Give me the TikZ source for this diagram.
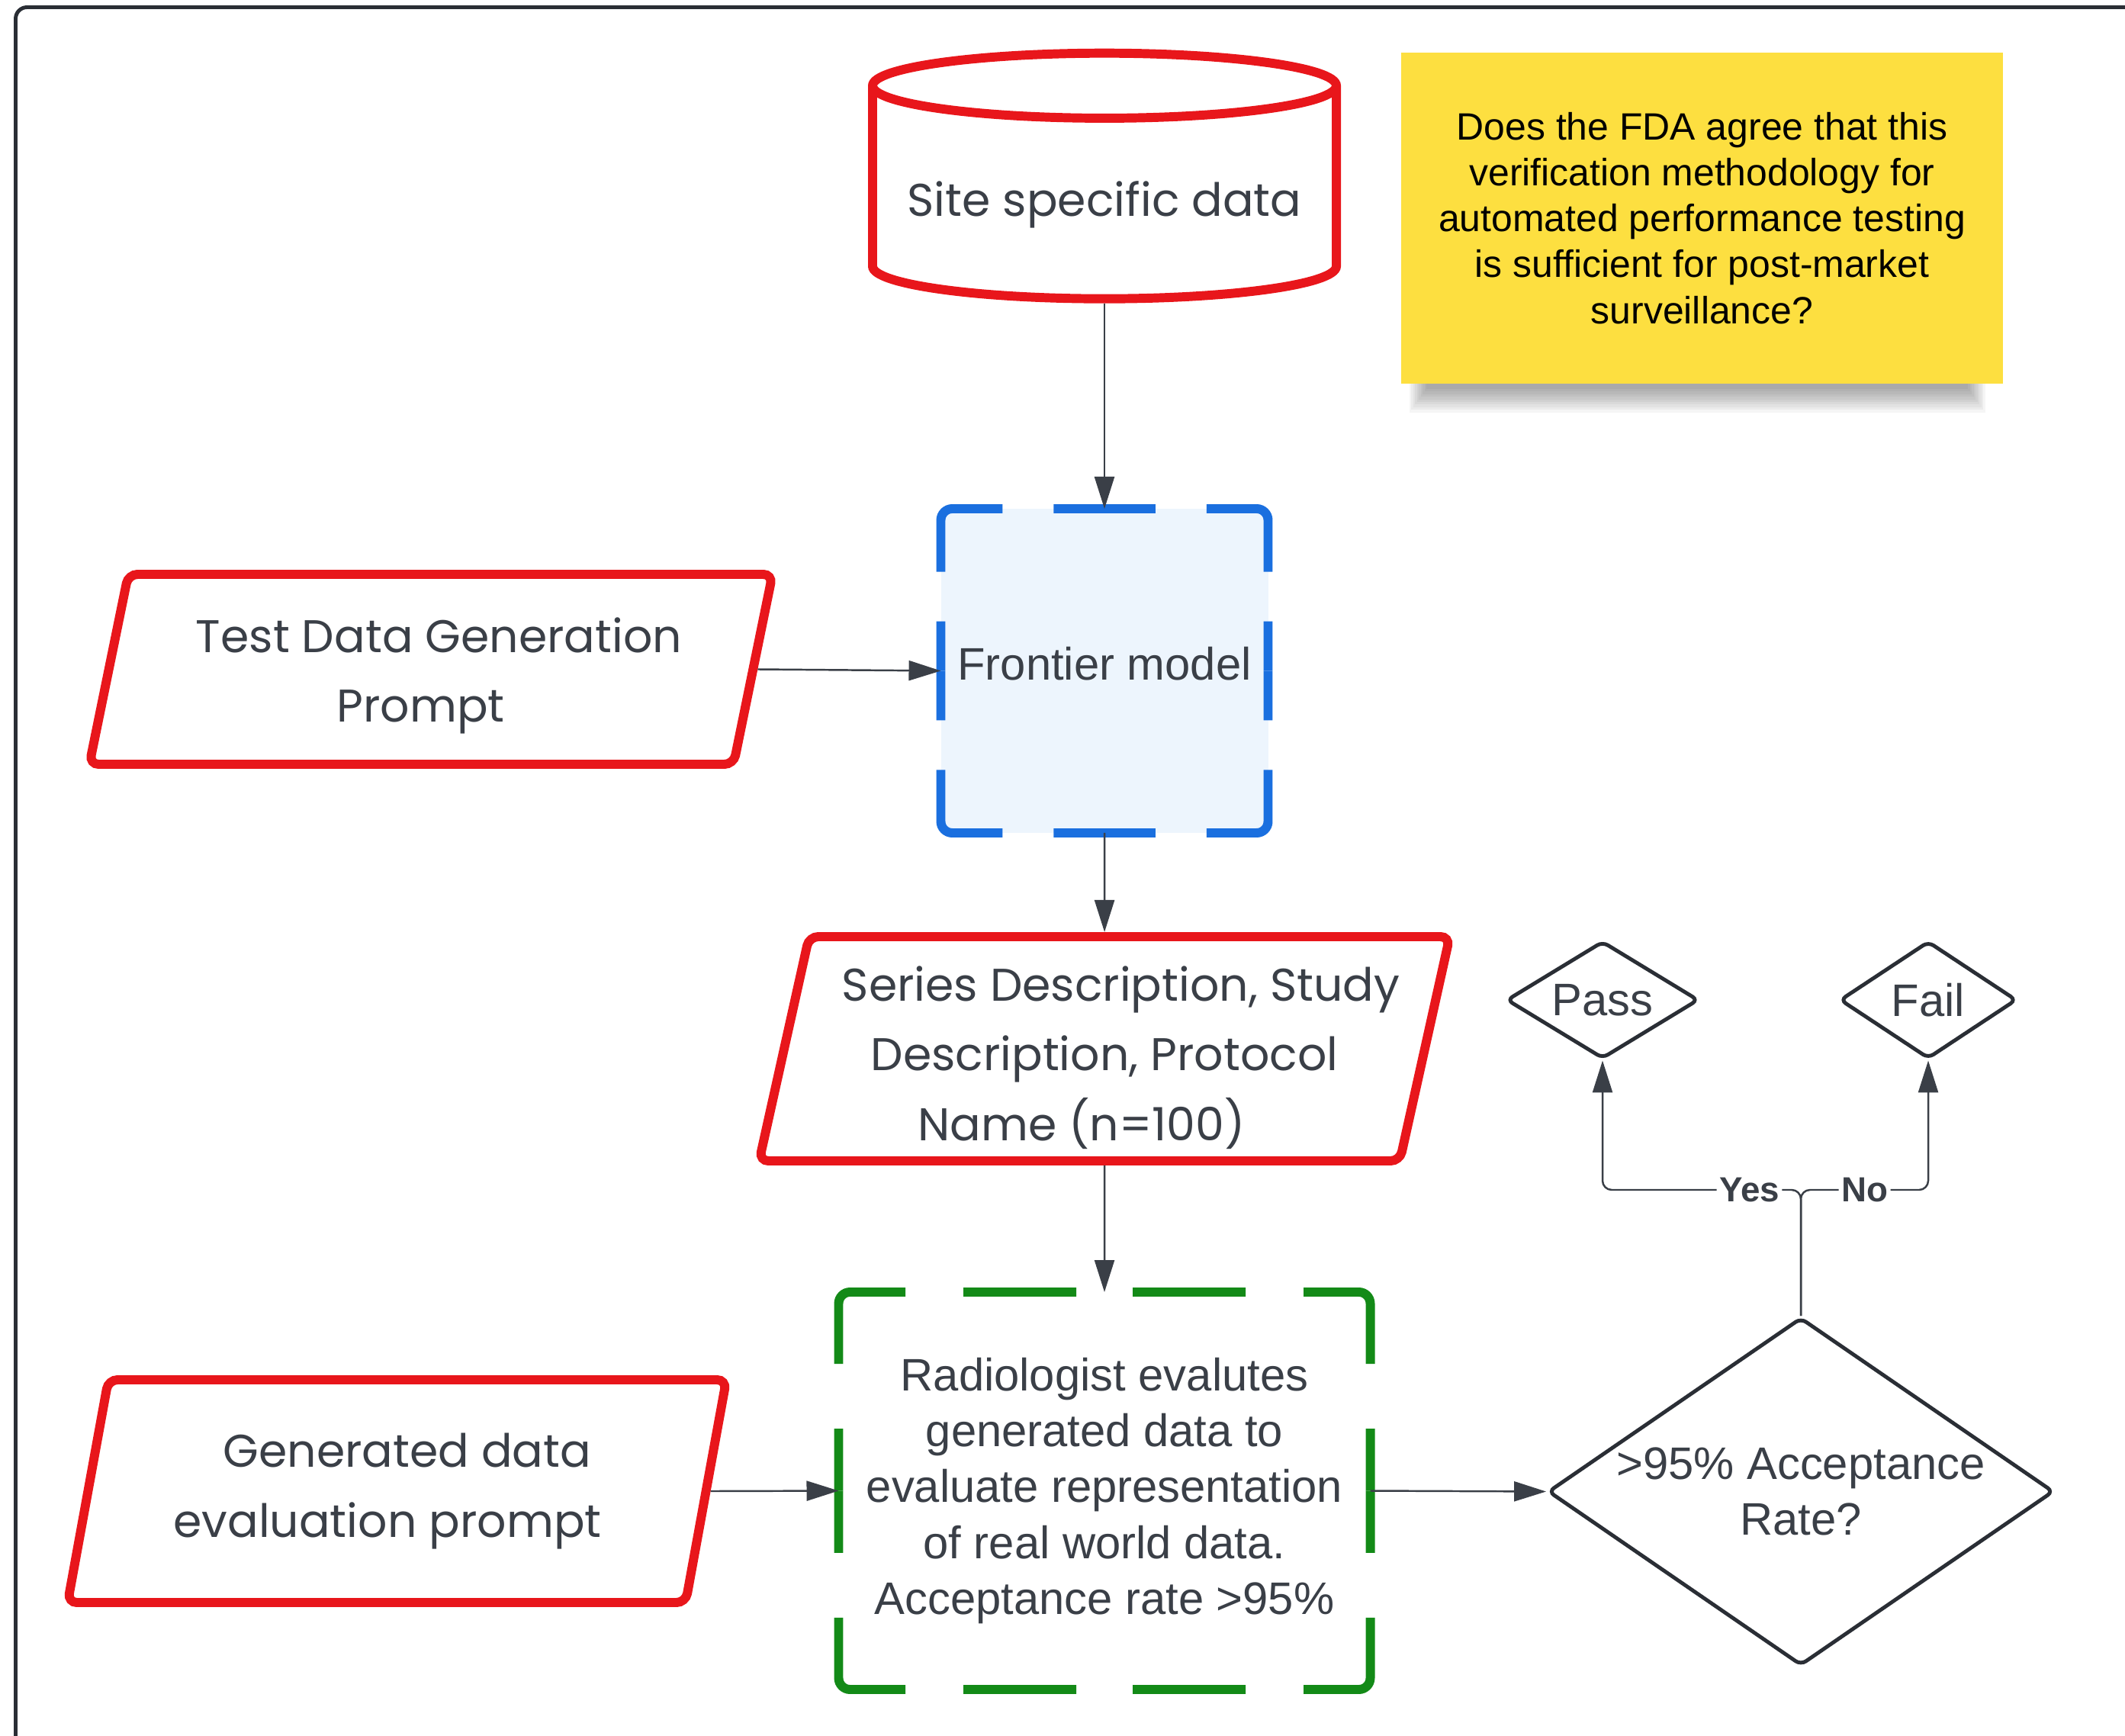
\documentclass[tikz,border=0pt]{standalone}
\usepackage{fontspec}
\setmainfont{Liberation Sans}
\newfontfamily\poppins{Poppins}
\usetikzlibrary{shapes.geometric}
\usetikzlibrary{arrows.meta}
\definecolor{boxred}{HTML}{E8161B}
\definecolor{modelblue}{HTML}{1A6FDF}
\definecolor{modelfill}{HTML}{EDF5FD}
\definecolor{evalgreen}{HTML}{138A17}
\definecolor{inkgray}{HTML}{3A3F47}
\definecolor{framegray}{HTML}{2A2E35}
\definecolor{noteyellow}{HTML}{FDDF40}
\tikzset{
	prompt/.style={trapezium, trapezium left angle=76, trapezium right angle=104, trapezium stretches=true, draw=boxred, line width=3.4pt, rounded corners=0.12cm, fill=white, text=inkgray, align=center, font=\poppins\fontsize{17.1}{26}\selectfont, inner sep=0pt},
	dashbox/.style={rectangle, inner sep=0pt, outer sep=0pt, text=inkgray, align=center, font=\fontsize{17}{20.8}\selectfont},
	modeledge/.style={modelblue, line width=3.4pt, rounded corners=0.15cm, dash pattern=on 0.6675cm off 0.67cm on 1.568cm off 0.65cm on 0.65cm off 1cm},
	reviewedge/.style={evalgreen, line width=3.4pt, rounded corners=0.15cm, dash pattern=on 0cm off 0.37cm on 1.48cm off 0.76cm on 1.751cm off 0.85cm on 0.815cm off 1cm},
	decision/.style={diamond, draw=framegray, line width=1.4pt, rounded corners=0.08cm, inner sep=0pt, text=inkgray, align=center, font=\fontsize{17}{20.8}\selectfont},
	conn/.style={draw=inkgray, line width=0.7pt, -{Triangle[length=0.42cm, width=0.26cm]}},
	branch/.style={fill=white, inner sep=1pt, text=inkgray, font=\bfseries\fontsize{13}{15}\selectfont},
}
\begin{document}
\begin{tikzpicture}
	\useasboundingbox (0,0) rectangle (27.86,-22.76);
	\clip (0,0) rectangle (27.86,-22.76);
	\draw[framegray, line width=1.4pt, rounded corners=0.15cm] (0.205,-0.095) rectangle (28.5,-23.5);

	\node[cylinder, shape border rotate=90, aspect=0.165, draw=boxred, line width=3.4pt, minimum width=6.08cm, minimum height=3.22cm, inner sep=0pt, text=inkgray, font=\poppins\fontsize{17.1}{26}\selectfont] (site) at (14.48,-2.55) {\rule{0pt}{20.7pt}Site specific data};

	\foreach \k in {0,...,9}
		\fill[black, opacity=0.04] (18.7-0.025*\k,-4.8) rectangle (25.8+0.025*\k,-5.1-0.034*\k);
	\node[fill=noteyellow, minimum width=7.89cm, minimum height=4.34cm, inner sep=0pt, align=center, font=\fontsize{14.2}{17.1}\selectfont] (note) at (22.315,-2.86) {Does the FDA agree that this\\verification methodology for\\automated performance testing\\is sufficient for post-market\\surveillance?};

	\node[dashbox, fill=modelfill, minimum width=4.29cm, minimum height=4.25cm, text depth=0.2cm] (model) at (14.48,-8.795) {Frontier model};
	\foreach \a/\b/\c in {north/north west/west, north/north east/east, south/south west/west, south/south east/east}
		\draw[modeledge] (model.\a) -- (model.\b) -- (model.\c);

	\node[prompt, minimum width=8.96cm, minimum height=2.49cm] (testprompt) at (5.65,-8.775) {\rule{0pt}{17.8pt}\hspace*{0.21cm}Test Data Generation\\\hspace*{-0.27cm}Prompt};
	\node[prompt, minimum width=9.02cm, minimum height=2.94cm] (series) at (14.48,-13.75) {\rule{0pt}{19.5pt}\hspace*{0.43cm}Series Description, Study\\Description, Protocol\\\hspace*{-0.6cm}Name (n=100)};
	\node[prompt, minimum width=8.65cm, minimum height=2.92cm] (evalprompt) at (5.205,-19.55) {\hspace*{0.27cm}Generated data\\\hspace*{-0.25cm}evaluation prompt};

	\node[dashbox, minimum width=6.97cm, minimum height=5.21cm] (review) at (14.48,-19.545) {Radiologist evalutes\\generated data to\\evaluate representation\\of real world data.\\Acceptance rate >95\%};
	\foreach \a/\b/\c in {north/north west/west, north/north east/east, south/south west/west, south/south east/east}
		\draw[reviewedge] (review.\a) -- (review.\b) -- (review.\c);

	\node[decision, aspect=1.45, minimum width=6.63cm, minimum height=4.56cm] (accept) at (23.61,-19.555) {>95\% Acceptance\\Rate?};
	\node[decision, aspect=1.64, minimum width=2.52cm, minimum height=1.54cm] (pass) at (21.01,-13.11) {Pass};
	\node[decision, aspect=1.5, minimum width=2.32cm, minimum height=1.54cm] (fail) at (25.28,-13.11) {Fail};

	\draw[conn] (site.south) -- (model.north);
	\draw[conn] (testprompt.east) -- (model.west);
	\draw[conn] (model.south) -- (series.north);
	\draw[conn] (series.south) -- (review.north);
	\draw[conn] (evalprompt.east) -- (review.west);
	\draw[conn] (review.east) -- (accept.west);
	\coordinate (split) at (23.61,-15.60);
	\draw[conn, rounded corners=0.12cm] (accept.north) -- (split) -| node[branch, pos=0.13] (yes) {Yes} (pass.south);
	\draw[conn, rounded corners=0.12cm] (accept.north) -- (split) -| node[branch, pos=0.25] (no) {No} (fail.south);
\end{tikzpicture}
\end{document}
